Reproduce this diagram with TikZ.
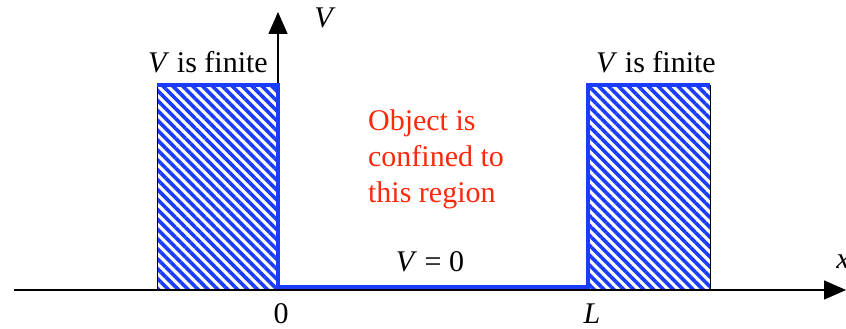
\documentclass[tikz,border=0pt]{standalone}
\usepackage{fontspec}
\setmainfont{Liberation Serif}
\usetikzlibrary{arrows.meta,patterns.meta}

\definecolor{wellblue}{RGB}{25,60,255}
\definecolor{notered}{RGB}{255,40,10}

\tikzset{
  axis/.style={line width=1.6pt, -{Triangle[length=22pt,width=19pt]}},
  wall/.style={pattern={Lines[angle=-45,distance=7pt,line width=3.6pt]}, pattern color=wellblue},
  edge/.style={line width=1pt},
  potential/.style={wellblue, line width=4pt},
  lbl/.style={font=\fontsize{30}{36}\selectfont, inner sep=0pt},
}

\begin{document}
\begin{tikzpicture}[x=1pt,y=1pt]
  \useasboundingbox (0,0) rectangle (846,329);

  % hatched walls (finite potential)
  \fill[wall] (157,39) rectangle (278,244);
  \fill[wall] (588,39) rectangle (710,244);
  \draw[edge] (157,39) -- (157,244);
  \draw[edge] (710,39) -- (710,244);

  % axes
  \coordinate (xs) at (14,39);
  \coordinate (xe) at (846,39);
  \coordinate (ys) at (278,39);
  \coordinate (ye) at (278,317);
  \draw[axis] (xs) -- (xe);
  \draw[axis] (ys) -- (ye);

  % potential V(x)
  \draw[potential] (157,244) -- (278,244) -- (278,42) -- (588,42) -- (588,244) -- (710,244);

  % labels
  \node[lbl] (vaxis) at (325,311) {\textit{V}};
  \node[lbl] (xaxis) at (843,67) {\textit{x}};
  \node[lbl] (zero) at (281,15) {0};
  \node[lbl] (ell) at (592,15) {\textit{L}};
  \node[lbl] (finl) at (208,267) {\textit{V} is finite};
  \node[lbl] (finr) at (656,267) {\textit{V} is finite};
  \node[lbl] (vzero) at (430,67) {\textit{V} = 0};
  \node[lbl, notered, align=left] (region) at (436,170) {Object is\\confined to\\this region};
\end{tikzpicture}
\end{document}
